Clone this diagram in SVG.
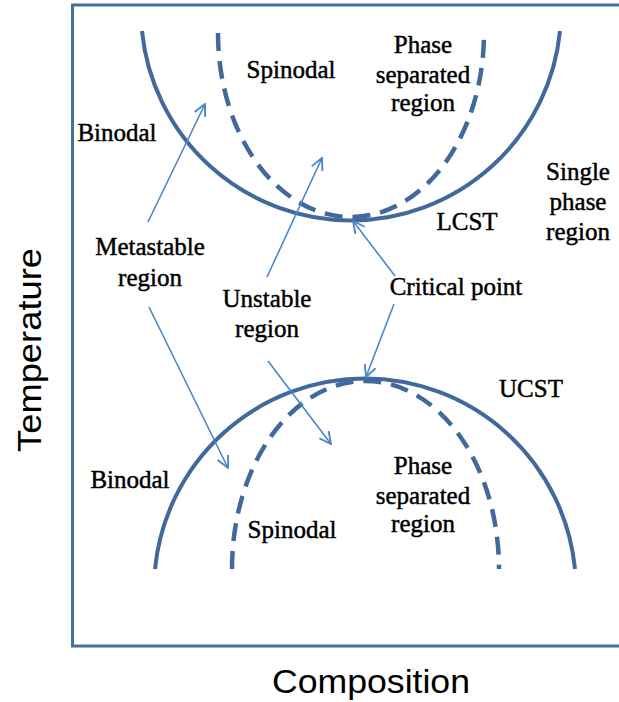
<svg xmlns="http://www.w3.org/2000/svg" width="619" height="702" viewBox="0 0 619 702">
<style>
.frame{fill:none;stroke:#41719c;stroke-width:3}
.bin{fill:none;stroke:#41699c;stroke-width:4}
.spi{fill:none;stroke:#41699c;stroke-width:4.5;stroke-dasharray:18 10}
.arr{fill:none;stroke:#4a86c8;stroke-width:1.6;marker-end:url(#ah)}
.lbl{font-family:"Liberation Serif","Times New Roman",serif;font-size:25px;fill:#000;stroke:#000;stroke-width:0.45;text-anchor:middle}
.ax{font-family:"Liberation Sans",Arial,sans-serif;font-size:34px;fill:#000;text-anchor:middle}
</style>
<defs>
<marker id="ah" viewBox="0 0 12 12" refX="11" refY="6" markerWidth="14" markerHeight="14" markerUnits="userSpaceOnUse" orient="auto">
<path d="M1,1 L11,6 L1,11" fill="none" stroke="#4a86c8" stroke-width="1.6"/>
</marker>
</defs>
<rect width="619" height="702" fill="#fff"/>
<g id="frame"><path class="frame" d="M625,5 H72.5 V646 H625"/></g>
<g id="lcst-binodal"><path class="bin" d="M142,31 A210,210 0 0 0 560,31"/></g>
<g id="lcst-spinodal"><path class="spi" d="M218,33 A133,184 0 0 0 484,33"/></g>
<g id="ucst-binodal"><path class="bin" d="M155,569 A211,211 0 0 1 575,569"/></g>
<g id="ucst-spinodal"><path class="spi" d="M232,569 A133.5,188 0 0 1 499,569"/></g>
<g id="connectors">
<path class="arr" d="M148,222 L205,104"/>
<path class="arr" d="M149,307 L228,468"/>
<path class="arr" d="M267,277 L322,158"/>
<path class="arr" d="M268,361 L331,444"/>
<path class="arr" d="M395,276 L353,221"/>
<path class="arr" d="M394,304 L366,377"/>
</g>
<g id="labels">
<text class="lbl" x="291" y="78">Spinodal</text>
<text class="lbl" x="423" y="53">Phase</text>
<text class="lbl" x="423" y="83">separated</text>
<text class="lbl" x="423" y="111">region</text>
<text class="lbl" x="117" y="141">Binodal</text>
<text class="lbl" x="578" y="180">Single</text>
<text class="lbl" x="578" y="210">phase</text>
<text class="lbl" x="578" y="240">region</text>
<text class="lbl" x="467" y="230">LCST</text>
<text class="lbl" x="150" y="255">Metastable</text>
<text class="lbl" x="150" y="286">region</text>
<text class="lbl" x="267" y="307">Unstable</text>
<text class="lbl" x="267" y="337">region</text>
<text class="lbl" x="456" y="295">Critical point</text>
<text class="lbl" x="531" y="397">UCST</text>
<text class="lbl" x="130" y="488">Binodal</text>
<text class="lbl" x="423" y="474">Phase</text>
<text class="lbl" x="423" y="504">separated</text>
<text class="lbl" x="423" y="532">region</text>
<text class="lbl" x="292" y="538">Spinodal</text>
</g>
<g id="axes">
<text class="ax" x="371" y="693" textLength="198" lengthAdjust="spacingAndGlyphs">Composition</text>
<text class="ax" transform="translate(41,350) rotate(-90)" textLength="204" lengthAdjust="spacingAndGlyphs">Temperature</text>
</g>
</svg>
